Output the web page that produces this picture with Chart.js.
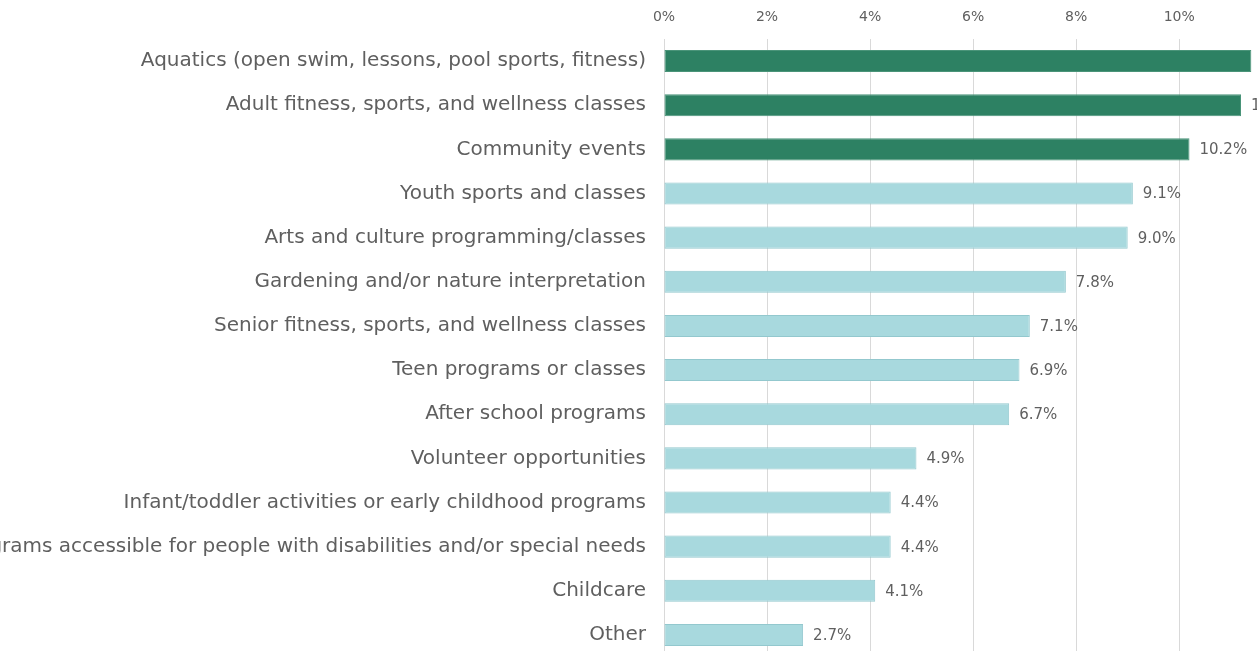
<!DOCTYPE html>
<html>
<head>
<meta charset="utf-8">
<script src="https://cdn.jsdelivr.net/npm/chart.js@4/dist/chart.umd.min.js"></script>
<style>
    html, body { margin: 0; padding: 0; background: #ffffff; overflow: hidden; }
    #wrap { width: 1257px; height: 657px; }
</style>
</head>
<body>
<div id="wrap"><canvas id="programChart"></canvas></div>
<script>
const categories = [
    "Aquatics (open swim, lessons, pool sports, fitness)",
    "Adult fitness, sports, and wellness classes",
    "Community events",
    "Youth sports and classes",
    "Arts and culture programming/classes",
    "Gardening and/or nature interpretation",
    "Senior fitness, sports, and wellness classes",
    "Teen programs or classes",
    "After school programs",
    "Volunteer opportunities",
    "Infant/toddler activities or early childhood programs",
    "Programs accessible for people with disabilities and/or special needs",
    "Childcare",
    "Other"
];
const shares = [11.4, 11.2, 10.2, 9.1, 9.0, 7.8, 7.1, 6.9, 6.7, 4.9, 4.4, 4.4, 4.1, 2.7];
const topThree = 3;
const xTicks = [0, 2, 4, 6, 8, 10];

const FONT = "'DejaVu Sans', sans-serif";
const TEXT = "#5f5f5f";

// percent labels just past the end of each bar
const valueLabels = {
    id: "valueLabels",
    afterDatasetsDraw(chart) {
        let ctx = chart.ctx;
        let meta = chart.getDatasetMeta(0);
        ctx.save();
        ctx.font = "15px " + FONT;
        ctx.fillStyle = TEXT;
        ctx.textAlign = "left";
        ctx.textBaseline = "middle";
        meta.data.forEach((bar, i) => {
            ctx.fillText(shares[i].toFixed(1) + "%", bar.x + 10, bar.y + 1);
        });
        ctx.restore();
    }
};

let ctx = document.getElementById("programChart").getContext("2d");

let data = {
    labels: categories,
    datasets: [{
        data: shares,
        backgroundColor: shares.map((v, i) => i < topThree ? "#2d8163" : "#a8d9de"),
        borderColor: shares.map((v, i) => i < topThree ? "#4a9479" : "#93c8ce"),
        borderWidth: 1,
        borderSkipped: false,
        barPercentage: 0.5,
        categoryPercentage: 1.0
    }]
};

let options = {
    indexAxis: "y",
    responsive: true,
    maintainAspectRatio: false,
    animation: false,
    layout: {
        padding: 0
    },
    plugins: {
        legend: { display: false },
        tooltip: { enabled: false }
    },
    scales: {
        x: {
            position: "top",
            min: 0,
            max: 11.51,
            afterBuildTicks: (scale) => {
                scale.ticks = xTicks.map(v => ({ value: v }));
            },
            afterFit: (scale) => {
                scale.height = 39;
                scale.paddingLeft = 0;
                scale.paddingRight = 0;
            },
            grid: { color: "#d9d9d9", lineWidth: 1, drawTicks: false },
            border: { display: false },
            ticks: {
                color: TEXT,
                padding: 13,
                font: { family: FONT, size: 14 },
                callback: (v) => v + "%"
            }
        },
        y: {
            afterFit: (scale) => {
                scale.width = 664;
                scale.paddingTop = 0;
                scale.paddingBottom = 0;
            },
            grid: { display: false, drawTicks: false },
            border: { display: false },
            ticks: {
                color: TEXT,
                padding: 18,
                autoSkip: false,
                font: { family: FONT, size: 20 }
            }
        }
    }
};

new Chart(ctx, {
    type: "bar",
    data: data,
    options: options,
    plugins: [valueLabels]
});
</script>
</body>
</html>
